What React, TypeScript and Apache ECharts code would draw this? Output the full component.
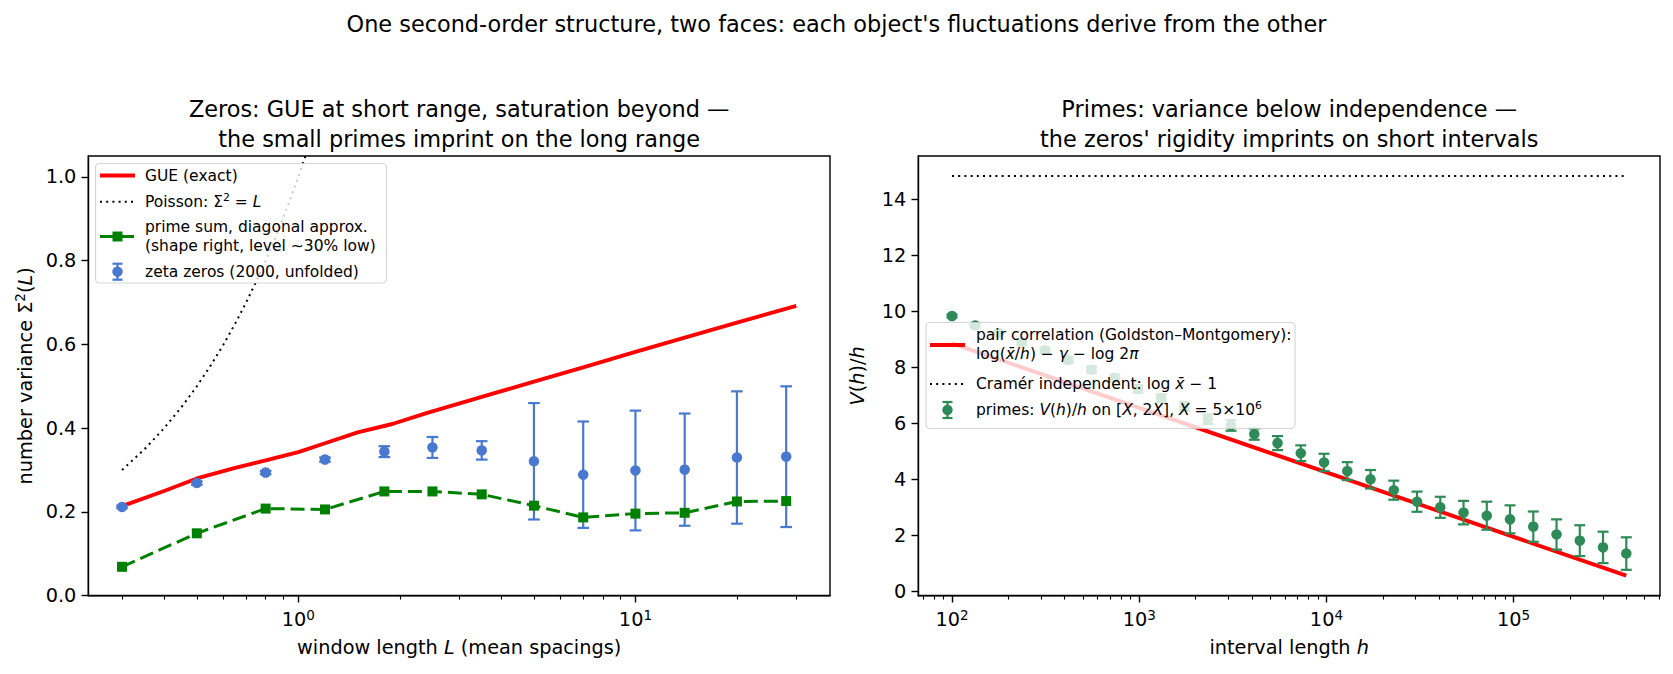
import React, { useEffect, useRef } from "react";
import * as echarts from "echarts";

const FONT = "DejaVu Sans";

// ---- Left panel: number variance of the zeta zeros ----
const windowL = [0.3, 0.5, 0.8, 1.2, 1.8, 2.5, 3.5, 5, 7, 10, 14, 20, 28];
const zerosSigma2 = [0.212, 0.269, 0.294, 0.325, 0.344, 0.354, 0.347, 0.321, 0.289, 0.299, 0.301, 0.33, 0.332];
const zerosErr = [0.003, 0.004, 0.004, 0.005, 0.013, 0.025, 0.022, 0.139, 0.127, 0.143, 0.134, 0.158, 0.168];
const primeSumSigma2 = [0.069, 0.149, 0.208, 0.206, 0.249, 0.249, 0.242, 0.215, 0.187, 0.196, 0.198, 0.225, 0.226];

const gueL = [0.3, 0.4, 0.5, 0.65, 0.8, 1.0, 1.2, 1.5, 1.9, 2.4, 3.5, 5, 7, 10, 14, 20, 30];
const gueSigma2 = [0.214, 0.25, 0.28, 0.305, 0.323, 0.343, 0.364, 0.39, 0.41, 0.436, 0.475, 0.511, 0.545, 0.582, 0.616, 0.652, 0.692];

const poissonL = [0.3, 0.35, 0.4, 0.45, 0.5, 0.55, 0.6, 0.65, 0.7, 0.75, 0.8, 0.85, 0.9, 0.95, 1.0, 1.05];
const poissonSigma2 = [0.3, 0.35, 0.4, 0.45, 0.5, 0.55, 0.6, 0.65, 0.7, 0.75, 0.8, 0.85, 0.9, 0.95, 1.0, 1.05];

const leftMajorL = [1, 10];
const leftMinorL = [0.3, 0.4, 0.5, 0.6, 0.7, 0.8, 0.9, 2, 3, 4, 5, 6, 7, 8, 9, 20, 30];
const leftYTicks = [0, 0.2, 0.4, 0.6, 0.8, 1.0];

// ---- Right panel: variance of primes in short intervals ----
const intervalH = [100, 133, 177, 236, 314, 418, 556, 740, 985, 1312, 1746, 2324, 3094, 4118, 5481, 7295, 9710, 12925, 17204, 22898, 30479, 40570, 54000, 71877, 95672, 127350, 169510, 225630, 300330, 399750];
const primesV = [9.83, 9.49, 9.23, 8.89, 8.61, 8.26, 7.92, 7.62, 7.23, 6.9, 6.61, 6.15, 5.93, 5.62, 5.3, 4.94, 4.61, 4.3, 4.01, 3.62, 3.21, 3.01, 2.82, 2.71, 2.58, 2.32, 2.04, 1.82, 1.58, 1.36];
const primesErr = [0.05, 0.06, 0.07, 0.08, 0.09, 0.1, 0.11, 0.12, 0.13, 0.14, 0.15, 0.17, 0.19, 0.2, 0.25, 0.28, 0.31, 0.32, 0.33, 0.34, 0.36, 0.375, 0.42, 0.5, 0.5, 0.54, 0.54, 0.55, 0.56, 0.58];

const pairH = [100, 399750];
const pairV = [8.86, 0.57];
const cramerH = [100, 399750];
const cramerV = [14.83, 14.83];

const rightMajorH = [1e2, 1e3, 1e4, 1e5];
const rightMinorH = [
  70, 80, 90,
  200, 300, 400, 500, 600, 700, 800, 900,
  2000, 3000, 4000, 5000, 6000, 7000, 8000, 9000,
  20000, 30000, 40000, 50000, 60000, 70000, 80000, 90000,
  200000, 300000, 400000, 500000, 600000,
];
const rightYTicks = [0, 2, 4, 6, 8, 10, 12, 14];

// ---- colours ----
const RED = "#ff0000";
const GREEN = "#008000";
const BLUE = "#4878d0";
const SEAGREEN = "#2e8b57";

const TICK_FS = 19.3;
const TITLE_FS = 22.4;
const LEG_FS = 15.5;

const lg = Math.log10;

function richFor(size: number, lineHeight: number) {
  return {
    b: { fontFamily: FONT, fontSize: size, lineHeight, color: "#000" },
    it: { fontFamily: FONT, fontSize: size, lineHeight, fontStyle: "italic", color: "#000" },
    sup: { fontFamily: FONT, fontSize: size * 0.7, lineHeight: size * 0.7, verticalAlign: "top", color: "#000" },
  };
}

function logRange(lo: number, hi: number, margin = 0.05) {
  const a = lg(lo);
  const b = lg(hi);
  const s = b - a;
  return [a - margin * s, b + margin * s];
}

function errorBars(xAxisIndex: number, yAxisIndex: number, xs: number[], ys: number[], es: number[], color: string, cap: number, width: number, z: number) {
  return {
    type: "custom",
    xAxisIndex,
    yAxisIndex,
    z,
    silent: true,
    data: xs.map((x, i) => [lg(x), ys[i] - es[i], ys[i] + es[i]]),
    renderItem: (_p: any, api: any) => {
      const x = api.value(0);
      const lo = api.coord([x, api.value(1)]);
      const hi = api.coord([x, api.value(2)]);
      const style = { stroke: color, lineWidth: width, fill: null };
      return {
        type: "group",
        children: [
          { type: "line", shape: { x1: lo[0], y1: lo[1], x2: hi[0], y2: hi[1] }, style },
          { type: "line", shape: { x1: lo[0] - cap, y1: lo[1], x2: lo[0] + cap, y2: lo[1] }, style },
          { type: "line", shape: { x1: hi[0] - cap, y1: hi[1], x2: hi[0] + cap, y2: hi[1] }, style },
        ],
      };
    },
  };
}

function majorX(gridIndex: number, range: number[], majors: number[], name: string, gap: number) {
  return {
    type: "value",
    gridIndex,
    position: "bottom",
    min: range[0],
    max: range[1],
    name,
    nameLocation: "middle",
    nameGap: gap,
    nameMoveOverlap: false,
    nameTextStyle: { fontFamily: FONT, fontSize: TICK_FS, color: "#000", rich: richFor(TICK_FS, 24) },
    axisLine: { show: true, onZero: false, lineStyle: { color: "#000", width: 1.4 } },
    axisTick: { show: true, length: 6.8, lineStyle: { color: "#000", width: 1.4 }, customValues: majors.map(lg) },
    axisLabel: {
      show: true,
      margin: 12,
      customValues: majors.map(lg),
      formatter: (v: number) => `{b|10}{sup|${Math.round(v)}}`,
      rich: richFor(TICK_FS, 24),
    },
    splitLine: { show: false },
  };
}

function minorX(gridIndex: number, range: number[], minors: number[]) {
  return {
    type: "value",
    gridIndex,
    position: "bottom",
    offset: 0,
    min: range[0],
    max: range[1],
    axisLine: { show: false, onZero: false },
    axisTick: { show: true, length: 3.9, lineStyle: { color: "#000", width: 1.1 }, customValues: minors.map(lg) },
    axisLabel: { show: false },
    splitLine: { show: false },
  };
}

function yAxisOf(gridIndex: number, min: number, max: number, ticks: number[], digits: number, name: string, gap: number) {
  return {
    type: "value",
    gridIndex,
    min,
    max,
    name,
    nameLocation: "middle",
    nameRotate: 90,
    nameGap: gap,
    nameMoveOverlap: false,
    nameTextStyle: { fontFamily: FONT, fontSize: TICK_FS, color: "#000", rich: richFor(TICK_FS, 24) },
    axisLine: { show: true, onZero: false, lineStyle: { color: "#000", width: 1.4 } },
    axisTick: { show: true, length: 6.8, lineStyle: { color: "#000", width: 1.4 }, customValues: ticks },
    axisLabel: {
      show: true,
      margin: 12,
      customValues: ticks,
      formatter: (v: number) => v.toFixed(digits),
      fontFamily: FONT,
      fontSize: TICK_FS,
      color: "#000",
    },
    splitLine: { show: false },
  };
}

function legendText(text: string, x: number, y: number) {
  return {
    type: "text",
    x,
    y,
    z: 101,
    style: {
      text,
      fontFamily: FONT,
      fontSize: LEG_FS,
      lineHeight: 19.2,
      fill: "#000",
      align: "left",
      verticalAlign: "middle",
      rich: richFor(LEG_FS, 19.2),
    },
  };
}

function hLine(x1: number, x2: number, y: number, color: string, width: number, dash?: number[]) {
  return {
    type: "line",
    z: 101,
    shape: { x1, y1: y, x2, y2: y },
    style: { stroke: color, lineWidth: width, lineDash: dash, lineCap: "butt" },
  };
}

function errIcon(cx: number, cy: number, color: string) {
  const st = { stroke: color, lineWidth: 2.2 };
  return [
    { type: "line", z: 101, shape: { x1: cx, y1: cy - 8, x2: cx, y2: cy + 8 }, style: st },
    { type: "line", z: 101, shape: { x1: cx - 5, y1: cy - 8, x2: cx + 5, y2: cy - 8 }, style: st },
    { type: "line", z: 101, shape: { x1: cx - 5, y1: cy + 8, x2: cx + 5, y2: cy + 8 }, style: st },
    { type: "circle", z: 102, shape: { cx, cy, r: 5.2 }, style: { fill: color } },
  ];
}

function titleText(text: string, x: number, y: number) {
  return {
    type: "text",
    x,
    y,
    z: 50,
    style: {
      text,
      fontFamily: FONT,
      fontSize: TITLE_FS,
      lineHeight: 29.9,
      fill: "#000",
      align: "center",
      verticalAlign: "middle",
    },
  };
}

function buildOption() {
  const leftX = logRange(Math.min(...gueL), Math.max(...gueL));
  const rightX = logRange(Math.min(...intervalH), Math.max(...intervalH));

  const legendBox = (x: number, y: number, w: number, h: number) => ({
    type: "rect",
    z: 100,
    shape: { x, y, width: w, height: h, r: 4 },
    style: { fill: "rgba(255,255,255,0.8)", stroke: "rgba(204,204,204,0.8)", lineWidth: 1.2 },
  });

  const graphic = [
    titleText("One second-order structure, two faces: each object's fluctuations derive from the other", 836.5, 23.5),
    titleText("Zeros: GUE at short range, saturation beyond —\nthe small primes imprint on the long range", 459.2, 123.8),
    titleText("Primes: variance below independence —\nthe zeros' rigidity imprints on short intervals", 1289.2, 123.8),

    // left legend
    legendBox(95.5, 163.5, 291, 119.5),
    hLine(100, 135, 175.5, RED, 3.9),
    legendText("GUE (exact)", 145, 176),
    hLine(100, 135, 201.7, "#000", 2, [2, 4.2]),
    legendText("Poisson: Σ{sup|2} = {it|L}", 145, 201.7),
    hLine(100, 135, 236.5, GREEN, 3, [14, 6]),
    { type: "rect", z: 102, shape: { x: 112.5, y: 231.5, width: 10, height: 10 }, style: { fill: GREEN } },
    legendText("prime sum, diagonal approx.\n(shape right, level ∼30% low)", 145, 236.2),
    ...errIcon(117.5, 271.7, BLUE),
    legendText("zeta zeros (2000, unfolded)", 145, 271.7),

    // right legend
    legendBox(926, 322.5, 369, 106),
    hLine(930, 965, 345, RED, 3.9),
    legendText("pair correlation (Goldston–Montgomery):\nlog({it|x̄}/{it|h}) − {it|γ} − log 2{it|π}", 976, 344.5),
    hLine(930, 965, 384, "#000", 2, [2, 4.2]),
    legendText("Cramér independent: log {it|x̄} − 1", 976, 384),
    ...errIcon(947.5, 410, SEAGREEN),
    legendText("primes: {it|V}({it|h})/{it|h} on [{it|X}, 2{it|X}], {it|X} = 5×10{sup|6}", 976, 410),
  ];

  return {
    animation: false,
    backgroundColor: "#fff",
    textStyle: { fontFamily: FONT },
    grid: [
      { left: 88.3, top: 156, width: 741.7, height: 439.7, show: true, borderColor: "#000", borderWidth: 1.4, backgroundColor: "transparent", outerBoundsMode: "none", containLabel: false },
      { left: 918.3, top: 156, width: 741.7, height: 439.7, show: true, borderColor: "#000", borderWidth: 1.4, backgroundColor: "transparent", outerBoundsMode: "none", containLabel: false },
    ],
    xAxis: [
      majorX(0, leftX, leftMajorL, "window length {it|L} (mean spacings)", 40),
      minorX(0, leftX, leftMinorL),
      majorX(1, rightX, rightMajorH, "interval length {it|h}", 40),
      minorX(1, rightX, rightMinorH),
    ],
    yAxis: [
      yAxisOf(0, 0, 1.05, leftYTicks, 1, "number variance Σ{sup|2}({it|L})", 51),
      yAxisOf(1, -0.143, 15.54, rightYTicks, 0, "{it|V}({it|h})/{it|h}", 49),
    ],
    graphic,
    series: [
      {
        name: "GUE (exact)",
        type: "line",
        xAxisIndex: 0,
        yAxisIndex: 0,
        z: 2,
        symbol: "none",
        smooth: false,
        lineStyle: { color: RED, width: 3.9 },
        data: gueL.map((L, i) => [lg(L), gueSigma2[i]]),
      },
      {
        name: "Poisson",
        type: "line",
        xAxisIndex: 0,
        yAxisIndex: 0,
        z: 2,
        symbol: "none",
        lineStyle: { color: "#000", width: 2, type: [2, 4.2] },
        data: poissonL.map((L, i) => [lg(L), poissonSigma2[i]]),
      },
      errorBars(0, 0, windowL, zerosSigma2, zerosErr, BLUE, 5.8, 2.2, 3),
      {
        name: "zeta zeros",
        type: "scatter",
        xAxisIndex: 0,
        yAxisIndex: 0,
        z: 4,
        symbol: "circle",
        symbolSize: 10.5,
        itemStyle: { color: BLUE, opacity: 1 },
        data: windowL.map((L, i) => [lg(L), zerosSigma2[i]]),
      },
      {
        name: "prime sum",
        type: "line",
        xAxisIndex: 0,
        yAxisIndex: 0,
        z: 5,
        symbol: "rect",
        symbolSize: 10,
        showSymbol: true,
        itemStyle: { color: GREEN, opacity: 1 },
        lineStyle: { color: GREEN, width: 3, type: [14, 6] },
        data: windowL.map((L, i) => [lg(L), primeSumSigma2[i]]),
      },

      {
        name: "pair correlation",
        type: "line",
        xAxisIndex: 2,
        yAxisIndex: 1,
        z: 2,
        symbol: "none",
        lineStyle: { color: RED, width: 3.9 },
        data: pairH.map((h, i) => [lg(h), pairV[i]]),
      },
      {
        name: "Cramér",
        type: "line",
        xAxisIndex: 2,
        yAxisIndex: 1,
        z: 2,
        symbol: "none",
        lineStyle: { color: "#000", width: 2, type: [2, 4.2] },
        data: cramerH.map((h, i) => [lg(h), cramerV[i]]),
      },
      errorBars(2, 1, intervalH, primesV, primesErr, SEAGREEN, 5.5, 2.2, 3),
      {
        name: "primes",
        type: "scatter",
        xAxisIndex: 2,
        yAxisIndex: 1,
        z: 4,
        symbol: "circle",
        symbolSize: 10.5,
        itemStyle: { color: SEAGREEN, opacity: 1 },
        data: intervalH.map((h, i) => [lg(h), primesV[i]]),
      },
    ],
  };
}

export default function App() {
  const ref = useRef<HTMLDivElement>(null);
  useEffect(() => {
    if (!ref.current) return;
    const chart = echarts.init(ref.current, null, { renderer: "svg" });
    chart.setOption(buildOption() as any);
    return () => chart.dispose();
  }, []);
  return (
    <div
      ref={ref}
      style={{ position: "fixed", left: 0, top: 0, width: 1673, height: 674, background: "#fff" }}
    />
  );
}
